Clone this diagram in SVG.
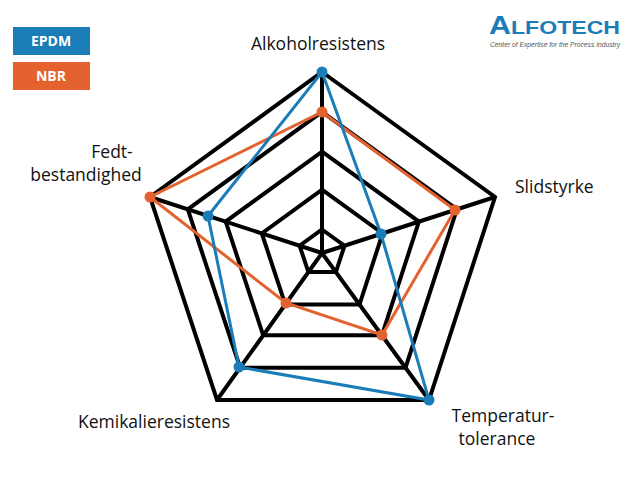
<svg xmlns="http://www.w3.org/2000/svg" width="640" height="480" viewBox="0 0 640 480">
<style>
.g{fill:none;stroke:#000;stroke-width:4;stroke-linejoin:miter}
.lbl{font-family:"Open Sans","Liberation Sans",sans-serif;font-size:17.5px;fill:#111}
.leg{font-family:"Open Sans","Liberation Sans",sans-serif;font-size:14px;font-weight:bold;fill:#fff}
.e{fill:none;stroke:#1b7db8;stroke-width:3}
.n{fill:none;stroke:#e4622e;stroke-width:3}
.ed{fill:#1b7db8}.nd{fill:#e4622e}
</style>
<rect width="640" height="480" fill="#fff"/>
<g id="legend">
<rect x="13" y="27" width="77" height="28" fill="#1b7db8"/><text class="leg" x="51" y="46" text-anchor="middle">EPDM</text>
<rect x="13" y="62" width="77" height="28" fill="#e4622e"/><text class="leg" x="51" y="81" text-anchor="middle">NBR</text>
</g>
<g id="logo">
<text x="489" y="34" font-family="Liberation Sans,sans-serif" font-weight="bold" fill="#1b7db8" textLength="131" lengthAdjust="spacingAndGlyphs"><tspan font-size="25">A</tspan><tspan font-size="19">LFOTECH</tspan></text>
<text x="490" y="47" font-family="Liberation Sans,sans-serif" font-style="italic" font-size="7" fill="#555" textLength="130" lengthAdjust="spacingAndGlyphs">Center of Expertise for the Process Industry</text>
</g>
<g id="grid">
<polygon class="g" points="322,72 495,197 429,400 217,400 150,197"/>
<polygon class="g" points="322,111.8 456.9,209.3 405.5,367.7 240.1,367.7 187.8,209.3"/>
<polygon class="g" points="322,151.6 418.9,221.6 381.9,335.3 263.2,335.3 225.7,221.6"/>
<polygon class="g" points="322,189.7 382.6,233.4 359.5,304.5 285.3,304.5 261.8,233.4"/>
<polygon class="g" points="322,229.5 344.5,245.7 335.9,272.1 308.4,272.1 299.6,245.7"/>
<path class="g" d="M322,253L322,72M322,253L495,197M322,253L429,400M322,253L217,400M322,253L150,197"/>
</g>
<g id="nbr">
<polygon class="n" points="322,112 455,210 382,335 286,303 150,197"/>
<g class="nd"><circle cx="322" cy="112" r="5.5"/><circle cx="455" cy="210" r="5.5"/><circle cx="382" cy="335" r="5.5"/><circle cx="286" cy="303" r="5.5"/><circle cx="150" cy="197" r="5.5"/></g>
</g>
<g id="epdm">
<polygon class="e" points="322,72 381,234 429,400 239,367 208,216"/>
<g class="ed"><circle cx="322" cy="72" r="5.5"/><circle cx="381" cy="234" r="5.5"/><circle cx="429" cy="400" r="5.5"/><circle cx="239" cy="367" r="5.5"/><circle cx="208" cy="216" r="5.5"/></g>
</g>
<g id="labels">
<text class="lbl" x="318" y="50" text-anchor="middle">Alkoholresistens</text>
<text class="lbl" x="515" y="193">Slidstyrke</text>
<text class="lbl" x="112" y="158" text-anchor="middle">Fedt-</text>
<text class="lbl" x="86" y="181" text-anchor="middle">bestandighed</text>
<text class="lbl" x="154" y="428" text-anchor="middle">Kemikalieresistens</text>
<text class="lbl" x="503" y="422" text-anchor="middle">Temperatur-</text>
<text class="lbl" x="497" y="445" text-anchor="middle">tolerance</text>
</g>
</svg>
